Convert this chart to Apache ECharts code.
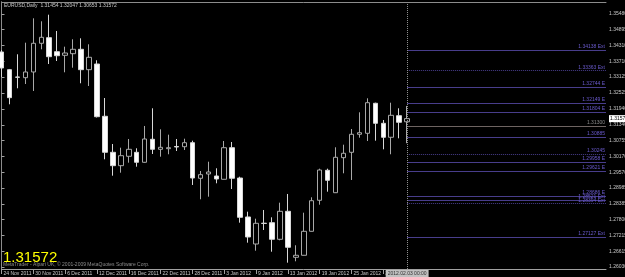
<!DOCTYPE html>
<html>
<head>
<meta charset="utf-8">
<title>EURUSD,Daily</title>
<script src="https://cdn.jsdelivr.net/npm/echarts@6/dist/echarts.min.js"></script>
<style>
  html, body { margin: 0; padding: 0; background: #000; }
  #chart { width: 625px; height: 277px; }
</style>
</head>
<body>
<div id="chart"></div>
<script>
const symbol = 'EURUSD,Daily'
const copyright = 'MetaTrader - Alpari UK, \u00a9 2001-2009 MetaQuotes Software Corp.'

// daily bars, 24 Nov 2011 .. 3 Feb 2012
const dates = [
  '24 Nov 2011', '25 Nov 2011', '28 Nov 2011', '29 Nov 2011', '30 Nov 2011',
  '1 Dec 2011', '2 Dec 2011', '5 Dec 2011', '6 Dec 2011', '7 Dec 2011',
  '8 Dec 2011', '9 Dec 2011', '12 Dec 2011', '13 Dec 2011', '14 Dec 2011',
  '15 Dec 2011', '16 Dec 2011', '19 Dec 2011', '20 Dec 2011', '21 Dec 2011',
  '22 Dec 2011', '23 Dec 2011', '26 Dec 2011', '27 Dec 2011', '28 Dec 2011',
  '29 Dec 2011', '30 Dec 2011', '2 Jan 2012', '3 Jan 2012', '4 Jan 2012',
  '5 Jan 2012', '6 Jan 2012', '9 Jan 2012', '10 Jan 2012', '11 Jan 2012',
  '12 Jan 2012', '13 Jan 2012', '16 Jan 2012', '17 Jan 2012', '18 Jan 2012',
  '19 Jan 2012', '20 Jan 2012', '23 Jan 2012', '24 Jan 2012', '25 Jan 2012',
  '26 Jan 2012', '27 Jan 2012', '30 Jan 2012', '31 Jan 2012', '1 Feb 2012',
  '2 Feb 2012', '3 Feb 2012'
]
const opens = [
  1.34061, 1.33400, 1.33127, 1.33101, 1.33314, 1.34386, 1.34595, 1.34072, 1.33937, 1.33997,
  1.34161, 1.33400, 1.33612, 1.31659, 1.30314, 1.29814, 1.30165, 1.30314, 1.29941, 1.30800,
  1.30426, 1.30449, 1.30531, 1.30523, 1.30673, 1.29343, 1.29504, 1.29429, 1.29306, 1.30486,
  1.29354, 1.27898, 1.26889, 1.27666, 1.27685, 1.27065, 1.28110, 1.26392, 1.26467, 1.27363,
  1.28521, 1.29642, 1.28805, 1.30113, 1.30314, 1.30987, 1.31024, 1.32145, 1.31397, 1.30875,
  1.31681, 1.31454
]
const highs = [
  1.34135, 1.33426, 1.33975, 1.34408, 1.35319, 1.35207, 1.35454, 1.34845, 1.34259, 1.34535,
  1.34572, 1.34348, 1.33751, 1.32342, 1.30624, 1.30486, 1.30811, 1.30464, 1.31297, 1.31958,
  1.31173, 1.30972, 1.30811, 1.30822, 1.30748, 1.29616, 1.29963, 1.29717, 1.30736, 1.30699,
  1.29403, 1.28096, 1.27834, 1.28159, 1.27886, 1.28432, 1.28757, 1.26841, 1.28058, 1.28633,
  1.29702, 1.29702, 1.30501, 1.30598, 1.31184, 1.31808, 1.32331, 1.32167, 1.31521, 1.32167,
  1.31958, 1.32047
]
const lows = [
  1.33127, 1.32107, 1.32705, 1.32865, 1.32604, 1.34161, 1.33612, 1.33724, 1.33302, 1.33474,
  1.32892, 1.32791, 1.31614, 1.30053, 1.29440, 1.29552, 1.29926, 1.29776, 1.29926, 1.30251,
  1.30150, 1.30240, 1.30363, 1.30400, 1.29093, 1.28559, 1.28656, 1.29156, 1.29298, 1.28943,
  1.27685, 1.26938, 1.26639, 1.27412, 1.26601, 1.27027, 1.26191, 1.26243, 1.26460, 1.27356,
  1.28357, 1.28843, 1.28798, 1.29530, 1.29280, 1.30860, 1.30736, 1.30748, 1.30426, 1.30240,
  1.30837, 1.30653
]
const closes = [
  1.33463, 1.32354, 1.33116, 1.33314, 1.34386, 1.34610, 1.33885, 1.33922, 1.34023, 1.34161,
  1.33400, 1.33863, 1.31644, 1.30314, 1.29814, 1.30187, 1.30426, 1.29941, 1.30811, 1.30426,
  1.30501, 1.30486, 1.30512, 1.30673, 1.29354, 1.29478, 1.29578, 1.29317, 1.30486, 1.29343,
  1.27886, 1.27151, 1.27662, 1.27655, 1.27065, 1.28110, 1.26766, 1.26467, 1.27363, 1.28506,
  1.29653, 1.29268, 1.30127, 1.30277, 1.30987, 1.31046, 1.32167, 1.31397, 1.30875, 1.31696,
  1.31435, 1.31572
]

// price scale labels on the right
const priceTicks = [
  1.35480, 1.34895, 1.34310, 1.33710, 1.33125, 1.32525, 1.31940, 1.31340, 1.30755,
  1.30170, 1.29570, 1.28985, 1.28385, 1.27800, 1.27215, 1.26615, 1.26030
]

// fibo levels drawn from the last bar to the price scale
const levelValues = [
  1.34138, 1.33363, 1.32744, 1.32149, 1.31804, 1.31300, 1.30885, 1.30245,
  1.29958, 1.29621, 1.28686, 1.28521, 1.28394, 1.27127
]
const levelNames = [
  '1.34138 Ext', '1.33363 Ext', '1.32744 E', '1.32149 E', '1.31804 E', '1.31300', '1.30885', '1.30245',
  '1.29958 E', '1.29621 E', '1.28686 E', '1.28521 Ext', '1.28394 Ext', '1.27127 Ext'
]
const separatorLabel = '2012.02.03 00:00'

const emptyBars = 25 // chart shift to the right

const font = '"Liberation Sans", Arial, sans-serif'
const lastIdx = dates.length - 1
const lastPrice = closes[lastIdx]

const categories = dates.concat(Array.from({ length: emptyBars }, (_, i) => '+' + (i + 1)))
const candles = dates.map((d, i) => [opens[i], closes[i], lows[i], highs[i]])

const dottedLevels = ['1.33363 Ext', '1.30245', '1.28394 Ext']
const levelLines = levelValues.map((v, i) => {
  const gray = levelNames[i] === '1.31300'
  return [
    {
      coord: [categories[lastIdx], v],
      name: levelNames[i],
      lineStyle: {
        color: gray ? '#6e6462' : '#483d8b',
        width: 1,
        type: dottedLevels.indexOf(levelNames[i]) >= 0 ? 'dotted' : 'solid'
      },
      label: { color: gray ? '#8a8a8a' : '#6a5acd' }
    },
    { coord: [categories[categories.length - 1], v] }
  ]
})

const chart = echarts.init(document.getElementById('chart'), null, { renderer: 'canvas' })

chart.setOption({
  backgroundColor: '#000',
  animation: false,
  grid: { left: 1.5, right: 19, top: 2, bottom: 8, outerBoundsMode: 'none', containLabel: false },
  xAxis: [
    {
      type: 'category',
      data: categories,
      boundaryGap: false,
      axisLine: { lineStyle: { color: '#a0a0a0', width: 1 } },
      axisTick: {
        length: 5,
        lineStyle: { color: '#a0a0a0' },
        interval: (i) => i % 4 === 0 && i <= lastIdx - 3
      },
      axisLabel: {
        interval: (i) => i % 4 === 0 && i <= lastIdx - 3,
        align: 'left',
        margin: 2,
        padding: [0, 0, 0, 2],
        color: '#c8c8c8',
        fontSize: 5,
        fontFamily: font
      },
      splitLine: { show: false }
    },
    {
      // top border of the chart window
      type: 'value',
      position: 'top',
      min: 0,
      max: 1,
      axisLine: { show: true, lineStyle: { color: '#8c8c8c' } },
      axisTick: { show: false },
      axisLabel: { show: false },
      splitLine: { show: false }
    }
  ],
  yAxis: [
    {
      type: 'value',
      position: 'right',
      min: 1.25955,
      max: 1.35928,
      axisLine: { show: true, lineStyle: { color: '#a0a0a0' } },
      axisTick: {
        show: true,
        inside: false,
        length: 3,
        customValues: priceTicks,
        lineStyle: { color: '#a0a0a0' }
      },
      axisLabel: {
        customValues: priceTicks.concat([lastPrice]),
        margin: 3,
        color: '#c8c8c8',
        fontSize: 5,
        fontFamily: font,
        formatter: (v) => {
          if (Math.abs(v - lastPrice) < 1e-9) return '{cur|' + v.toFixed(5) + '}'
          return v.toFixed(5)
        },
        rich: {
          cur: { backgroundColor: '#fff', color: '#000', fontSize: 5, fontFamily: font, padding: [1, 3, 1, 1] }
        }
      },
      splitLine: { show: false }
    },
    {
      // left border
      type: 'value',
      position: 'left',
      min: 0,
      max: 1,
      axisLine: { show: true, lineStyle: { color: '#8c8c8c' } },
      axisTick: { show: false },
      axisLabel: { show: false },
      splitLine: { show: false }
    }
  ],
  series: [
    {
      type: 'candlestick',
      name: symbol,
      data: candles,
      barWidth: 5,
      itemStyle: {
        color: '#000',
        borderColor: '#a8a8a8',
        color0: '#fff',
        borderColor0: '#d8d8d8',
        borderWidth: 1
      },
      markLine: {
        silent: true,
        symbol: 'none',
        animation: false,
        label: {
          show: true,
          position: 'insideEndTop',
          formatter: '{b}',
          fontSize: 5,
          fontFamily: font,
          distance: 1
        },
        data: levelLines.concat([
          {
            xAxis: categories[lastIdx],
            lineStyle: { color: '#909090', type: 'dotted', width: 1 },
            label: {
              position: 'start',
              formatter: separatorLabel,
              backgroundColor: '#c0c0c0',
              color: '#303030',
              padding: [1, 2],
              distance: 1,
              fontSize: 5
            }
          }
        ])
      }
    }
  ],
  graphic: [
    {
      type: 'text',
      left: 4,
      top: 3,
      style: {
        text: symbol + '  ' + [opens, highs, lows, closes].map(a => a[lastIdx].toFixed(5)).join(' '),
        fill: '#c8c8c8',
        font: '5px ' + font
      }
    },
    {
      type: 'text',
      left: 3,
      top: 262,
      style: { text: copyright, fill: '#8c8c8c', font: '5px ' + font }
    },
    {
      type: 'text',
      left: 3,
      top: 250,
      style: { text: lastPrice.toFixed(5), fill: '#ffff00', font: '15px ' + font }
    }
  ]
})
</script>
</body>
</html>
